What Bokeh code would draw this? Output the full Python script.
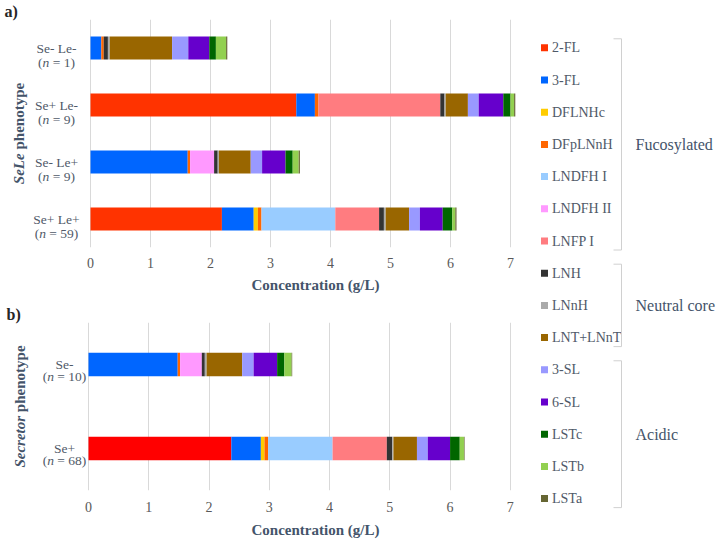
import math
from bokeh.plotting import figure
from bokeh.models import FactorRange, Range1d, FixedTicker, ColumnDataSource, Title
from bokeh.layouts import row, column
from bokeh.embed import file_html
from bokeh.resources import INLINE
from bokeh.core.properties import value

# ---------------- data ----------------
compounds = ["2-FL", "3-FL", "DFLNHc", "DFpLNnH", "LNDFH I", "LNDFH II", "LNFP I",
             "LNH", "LNnH", "LNT+LNnT", "3-SL", "6-SL", "LSTc", "LSTb", "LSTa"]
groups = ["Fucosylated", "Neutral core", "Acidic"]
group_first = [0, 7, 10]
group_last = [6, 9, 14]

sele_groups = ["Se- Le-", "Se+ Le-", "Se- Le+", "Se+ Le+"]
sele_n = [1, 9, 9, 59]
sec_groups = ["Se-", "Se+"]
sec_n = [10, 68]

# concentrations (g/L), order as in `compounds`
se_neg_le_neg = [0.00, 0.18, 0.00, 0.04, 0.00, 0.00, 0.00, 0.07, 0.03, 1.04, 0.27, 0.35, 0.11, 0.17, 0.02]
se_pos_le_neg = [3.43, 0.31, 0.00, 0.06, 0.00, 0.00, 2.03, 0.07, 0.02, 0.37, 0.18, 0.41, 0.12, 0.06, 0.02]
se_neg_le_pos = [0.00, 1.62, 0.00, 0.04, 0.00, 0.40, 0.00, 0.06, 0.02, 0.53, 0.19, 0.39, 0.12, 0.10, 0.02]
se_pos_le_pos = [2.19, 0.53, 0.07, 0.06, 1.23, 0.00, 0.73, 0.08, 0.03, 0.39, 0.18, 0.38, 0.16, 0.05, 0.02]
se_neg = [0.00, 1.48, 0.00, 0.04, 0.00, 0.36, 0.00, 0.05, 0.03, 0.59, 0.19, 0.39, 0.12, 0.12, 0.01]
se_pos = [2.37, 0.49, 0.06, 0.06, 1.07, 0.00, 0.90, 0.09, 0.02, 0.39, 0.18, 0.37, 0.16, 0.07, 0.01]

x_ticks = [0, 1, 2, 3, 4, 5, 6, 7]
x_max = 7.5

# ---------------- styles ----------------
colors_a = ["#FF3300", "#0066FF", "#FFCC00", "#FF6600", "#99CCFF", "#FF99FF", "#FF7C80",
            "#333333", "#AAAAAA", "#996600", "#9999FF", "#6600CC", "#006600", "#92D050", "#666633"]
colors_b = ["#FF0000"] + colors_a[1:]

FONT = "Liberation Serif"
TITLE_C = "#44546A"
LABEL_C = "#4F5968"
TICK_C = "#595959"
GRID_C = "#D9D9D9"

REG = {'(': .333, ')': .333, '=': .564, ' ': .25, 'S': .556, 'e': .444, '-': .333,
       '+': .564, 'L': .611, 'n': .5}
BOLD = {' ': .25, 'p': .556, 'h': .556, 'e': .444, 'n': .556, 'o': .5, 't': .333, 'y': .5}
BOLDIT = {'S': .556, 'e': .444, 'L': .611, 'c': .444, 'r': .389, 't': .278, 'o': .5}


def tw(s, table, size):
    return sum(table.get(c, .5) for c in s) * size


def panel(cats, ns, rows, colors, width, plot_left, frame_h, top, bottom, bar_h,
          tick_standoff, title_standoff, xtitle_left, cat_cx, gap_px, title_pieces,
          title_x, tag, tag_off):
    factors = list(reversed(cats))
    n_units = len(cats)
    unit_px = frame_h / n_units
    scale = (width - plot_left) / x_max
    data = {"group": cats}
    for j, c in enumerate(compounds):
        data[c] = [r[j] for r in rows]
    src = ColumnDataSource(data)
    p = figure(title=None, y_range=FactorRange(*factors),
               x_range=Range1d(-plot_left / scale, x_max),
               frame_width=width, frame_height=frame_h,
               min_border_left=0, min_border_right=0, min_border_top=top,
               min_border_bottom=bottom, toolbar_location=None, output_backend="svg")
    p.hbar_stack(compounds, y="group", height=bar_h, source=src,
                 fill_color=colors, line_color=None)
    p.outline_line_color = None
    p.yaxis.visible = False
    p.ygrid.visible = False
    p.xgrid.grid_line_color = GRID_C
    p.xaxis.ticker = FixedTicker(ticks=x_ticks)
    p.xaxis.axis_line_color = None
    p.xaxis.major_tick_line_color = None
    p.xaxis.minor_tick_line_color = None
    p.xaxis.major_tick_out = 0
    p.xaxis.major_label_text_font = FONT
    p.xaxis.major_label_text_font_size = "14px"
    p.xaxis.major_label_text_color = TICK_C
    p.xaxis.major_label_standoff = tick_standoff
    p.add_layout(Title(text="Concentration (g/L)", align="left", offset=xtitle_left,
                       standoff=title_standoff, text_font=FONT, text_font_size="15px",
                       text_font_style="bold", text_color=TITLE_C), "below")
    p.add_layout(Title(text=tag, align="left", offset=tag_off, standoff=0,
                       text_font=FONT, text_font_size="16px", text_font_style="bold",
                       text_color="#262626"), "above")

    # category labels (two lines, italic n)
    size = 13.5
    fs = f"{size}px"
    ys = [factors.index(c) + 0.5 for c in cats]
    cx = cat_cx - plot_left
    p.text(x=[0] * n_units, y=ys, x_offset=cx, text=cats, text_align="center",
           text_baseline="middle", text_font=value(FONT), text_font_size=fs,
           text_color=LABEL_C)
    off_open, off_n, off_rest, rests, y2 = [], [], [], [], []
    for yc, n in zip(ys, ns):
        rest = f"= {n})"
        w_open = tw("(", REG, size)
        w_n = tw("n ", REG, size)
        w_rest = tw(rest, REG, size)
        start = cx - (w_open + w_n + w_rest) / 2
        off_open.append(start)
        off_n.append(start + w_open)
        off_rest.append(start + w_open + w_n)
        rests.append(rest)
        y2.append(yc - gap_px / unit_px)
    common = dict(text_baseline="middle", text_align="left", text_font=value(FONT),
                  text_font_size=fs, text_color=LABEL_C)
    src2 = ColumnDataSource(dict(x=[0] * n_units, y=y2, o1=off_open, o2=off_n, o3=off_rest,
                                 t1=["("] * n_units, t2=["n"] * n_units, t3=rests))
    p.text(x="x", y="y", x_offset="o1", text="t1", source=src2, **common)
    p.text(x="x", y="y", x_offset="o2", text="t2", source=src2,
           text_font_style=value("italic"), **common)
    p.text(x="x", y="y", x_offset="o3", text="t3", source=src2, **common)

    # rotated axis title with italic part
    total = sum(w for _, _, w in title_pieces)
    pos = -total / 2
    for t, st, w in title_pieces:
        p.text(x=[0], y=[n_units / 2 + pos / unit_px], x_offset=title_x - plot_left,
               text=[t], angle=math.pi / 2, text_align="left", text_baseline="middle",
               text_font=value(FONT), text_font_style=value(st), text_font_size="15px",
               text_color=TITLE_C)
        pos += w
    return p


t1 = [("SeLe", "bold italic", tw("SeLe", BOLDIT, 15) + tw(" ", BOLD, 15)),
      ("phenotype", "bold", tw("phenotype", BOLD, 15))]
t2 = [("Secretor", "bold italic", tw("Secretor", BOLDIT, 15) + tw(" ", BOLD, 15)),
      ("phenotype", "bold", tw("phenotype", BOLD, 15))]

p1 = panel(sele_groups, sele_n,
           [se_neg_le_neg, se_pos_le_neg, se_neg_le_pos, se_pos_le_pos], colors_a,
           540, 90, 228, 19, 53, 0.4, 10, 9, 251, 56, 14, t1, 18, "a)", 4)
p2 = panel(sec_groups, sec_n, [se_neg, se_pos], colors_b,
           540, 88, 168, 22, 54, 0.28, 11, 10, 251, 64, 12, t2, 19, "b)", 6)

# ---------------- legend panel ----------------
n_items = len(compounds)
LEG_W, LEG_H = 182, 542
row_px, first_px = 32.2, 47.3
p3 = figure(title=None, frame_width=LEG_W, frame_height=LEG_H, x_range=Range1d(0, LEG_W),
            y_range=Range1d((LEG_H - first_px) / row_px, -first_px / row_px),
            min_border=0, toolbar_location=None, output_backend="svg")
p3.axis.visible = False
p3.grid.visible = False
p3.outline_line_color = None
idx = list(range(n_items))
p3.scatter(x=[4] * n_items, y=idx, marker="square", size=7, fill_color=colors_a,
           line_color=None)
p3.text(x=[11.5] * n_items, y=idx, text=compounds, text_baseline="middle",
        text_align="left", text_font=value(FONT), text_font_size="14px", text_color=LABEL_C)
for g, s, e in zip(groups, group_first, group_last):
    y0, y1 = s - 0.28, e + 0.28
    p3.line(x=[73, 81, 81, 73], y=[y0, y0, y1, y1], line_color="#D0D0D0", line_width=1)
    p3.text(x=[95], y=[(s + e) / 2], text=[g], text_baseline="middle", text_align="left",
            text_font=value(FONT), text_font_size="16px", text_color=TITLE_C)

layout = row(column(p1, p2), p3)
open("out.html", "w").write(file_html(layout, INLINE))
